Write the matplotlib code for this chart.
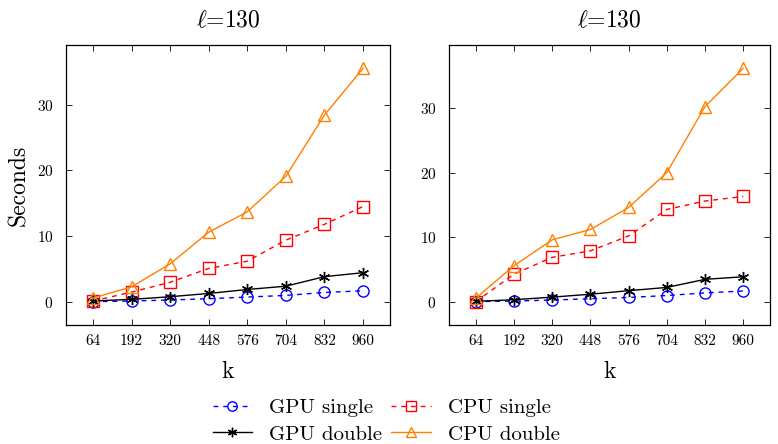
import matplotlib
matplotlib.use("Agg")
import matplotlib.pyplot as plt
from matplotlib.lines import Line2D

plt.rcParams['font.family'] = ['cmr10', 'DejaVu Serif']
plt.rcParams['mathtext.fontset'] = 'cm'
plt.rcParams['axes.formatter.use_mathtext'] = True

k = [64, 192, 320, 448, 576, 704, 832, 960]
titles = [r'$\ell$=130', r'$\ell$=130']

left_gpu_single = [0.05, 0.15, 0.3, 0.5, 0.75, 1.0, 1.45, 1.7]
left_cpu_single = [0.15, 1.5, 3.0, 5.1, 6.2, 9.4, 11.8, 14.5]
left_gpu_double = [0.15, 0.4, 0.8, 1.3, 1.9, 2.4, 3.85, 4.45]
left_cpu_double = [0.6, 2.3, 5.8, 10.6, 13.7, 19.1, 28.4, 35.5]

right_gpu_single = [0.05, 0.15, 0.3, 0.5, 0.7, 1.0, 1.4, 1.7]
right_cpu_single = [0.05, 4.3, 6.9, 7.9, 10.2, 14.3, 15.6, 16.3]
right_gpu_double = [0.1, 0.35, 0.75, 1.2, 1.75, 2.25, 3.5, 3.9]
right_cpu_double = [0.6, 5.6, 9.6, 11.2, 14.6, 20.0, 30.2, 36.1]

labels = ['GPU single', 'CPU single', 'GPU double', 'CPU double']
yticks = [0, 10, 20, 30]

styles = {
    'GPU single': dict(color=(0, 0, 1), ls=(0, (3.5, 3.5)), marker='o', ms=8, mfc='none', mew=1.0, lw=1.0),
    'CPU single': dict(color=(1, 0, 0), ls=(0, (3.5, 3.5)), marker='s', ms=8.5, mfc='none', mew=1.0, lw=1.0),
    'GPU double': dict(color='black', ls='-', marker=(6, 2, 0), ms=8, mew=1.0, lw=1.0),
    'CPU double': dict(color=(1, 0.5, 0), ls='-', marker='^', ms=8.5, mfc='none', mew=1.0, lw=1.0),
}

fig = plt.figure(figsize=(7.78, 4.44), dpi=100)
ax1 = fig.add_axes([66/778, 1-325/444, 324/778, 280/444])
ax2 = fig.add_axes([449/778, 1-325/444, 321/778, 280/444])

panels = [
    (ax1, [left_gpu_single, left_cpu_single, left_gpu_double, left_cpu_double]),
    (ax2, [right_gpu_single, right_cpu_single, right_gpu_double, right_cpu_double]),
]

for i, (ax, series) in enumerate(panels):
    allv = [v for s in series for v in s]
    lo, hi = min(allv), max(allv)
    r = hi - lo
    ax.set_ylim(lo - 0.1*r, hi + 0.1*r)
    xr = k[-1] - k[0]
    ax.set_xlim(k[0] - 0.1*xr, k[-1] + 0.1*xr)
    for lab, s in zip(labels, series):
        ax.plot(k, s, label=lab, **styles[lab])
    ax.set_xticks(k)
    ax.set_xticklabels([str(v) for v in k])
    ax.set_yticks(yticks)
    ax.tick_params(direction='in', top=True, right=True, labelsize=11, length=4, width=0.6)
    ax.tick_params(axis='x', pad=7)
    ax.tick_params(axis='y', pad=9)
    for sp in ax.spines.values():
        sp.set_linewidth(0.9)
    ax.set_title(titles[i], fontsize=17, pad=13)
    ax.set_xlabel('k', fontsize=17, labelpad=9)

ax1.set_ylabel('Seconds', fontsize=17, labelpad=5)

order = ['GPU single', 'GPU double', 'CPU single', 'CPU double']
handles = [Line2D([], [], **styles[l]) for l in order]
for h in handles:
    h.set_markersize(h.get_markersize()*0.85)
fig.legend(handles, order, loc='center', bbox_to_anchor=(386/778, 1-421/444), ncol=2,
           frameon=False, fontsize=15, handlelength=1.9, handletextpad=0.8, columnspacing=0.45,
           labelspacing=0.4, borderpad=0.0)

fig.savefig('out.png', dpi=100)
